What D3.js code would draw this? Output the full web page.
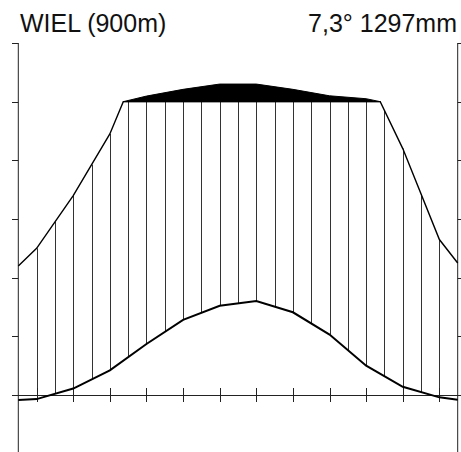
<!doctype html>
<html lang="de">
<head>
  <meta charset="utf-8">
  <style>
    body { margin: 0; background: #fff; }
    svg { display: block; }
  </style>
</head>
<body>
  <script src="https://d3js.org/d3.v7.min.js"></script>
  <div id="chart"></div>
  <script>
    // monthly means, Jan..Dec
    var months = ["Jan", "Feb", "Mär", "Apr", "Mai", "Jun", "Jul", "Aug", "Sep", "Okt", "Nov", "Dez"];
    var temp = [-0.7, 1.1, 4.2, 8.7, 12.8, 15.2, 16.0, 14.1, 10.3, 5.0, 1.4, -0.4];     // °C
    var precip = [50, 68, 89, 119, 142, 160, 160, 142, 120, 110, 84, 53];             // mm
    // values where the curves meet the left and right axis
    var tempEdge = [-0.85, -0.8];
    var precipEdge = [44, 45];
    var tempTicks = [-10, 0, 10, 20, 30, 40, 50, 60];
    var station = "WIEL (900m)";
    var summary = "7,3° 1297mm";

    var width = 461, height = 452;

    var svg = d3.select("#chart").append("svg")
        .attr("width", width)
        .attr("height", height);

    // x: month index 0..12, month i centred at i + 0.5
    var x = d3.scaleLinear().domain([0, 12]).range([18.3, 457.7]);
    // y in temperature units (10 °C = 20 mm below 100 mm, 200 mm above)
    var y = d3.scaleLinear().domain([0, 60]).range([395, 43]);
    var pToT = function(p) { return p <= 100 ? p / 2 : 50 + (p - 100) / 20; };

    var tPts = [{m: 0, v: tempEdge[0]}]
        .concat(temp.map(function(v, i) { return {m: i + 0.5, v: v}; }))
        .concat([{m: 12, v: tempEdge[1]}]);
    var pRaw = [{m: 0, v: precipEdge[0]}]
        .concat(precip.map(function(v, i) { return {m: i + 0.5, v: v}; }))
        .concat([{m: 12, v: precipEdge[1]}]);

    // add the points where precipitation crosses 100 mm
    var pPts = [];
    pRaw.forEach(function(d, i) {
      if (i > 0) {
        var a = pRaw[i - 1];
        if ((a.v - 100) * (d.v - 100) < 0) {
          var f = (100 - a.v) / (d.v - a.v);
          pPts.push({m: a.m + f * (d.m - a.m), v: 100});
        }
      }
      pPts.push(d);
    });
    var wet = pPts.filter(function(d) { return d.v >= 100; });

    var interp = function(pts, m) {
      for (var i = 1; i < pts.length; i++) {
        if (m <= pts[i].m) {
          var a = pts[i - 1], b = pts[i];
          return a.v + (b.v - a.v) * (m - a.m) / (b.m - a.m);
        }
      }
      return pts[pts.length - 1].v;
    };

    // hatching (humid period), every half month
    var hatch = d3.range(1, 24).map(function(k) { return k / 2; });
    svg.append("g").selectAll("line").data(hatch).enter().append("line")
        .attr("x1", function(m) { return Math.round(x(m)) + 0.5; })
        .attr("x2", function(m) { return Math.round(x(m)) + 0.5; })
        .attr("y1", function(m) { return y(interp(tPts, m)); })
        .attr("y2", function(m) { return y(Math.min(pToT(interp(pPts, m)), 50)); })
        .attr("stroke", "#333")
        .attr("stroke-width", 1);

    // perhumid part above 100 mm, black
    var area = d3.area()
        .x(function(d) { return x(d.m); })
        .y0(y(50))
        .y1(function(d) { return y(pToT(d.v)); });
    svg.append("path")
        .datum(wet)
        .attr("d", area)
        .attr("fill", "#000")
        .attr("stroke", "#000")
        .attr("stroke-width", 1)
        .attr("stroke-linejoin", "round");

    // axes
    var axes = svg.append("g").attr("stroke", "#222").attr("stroke-width", 1);
    axes.append("line")
        .attr("x1", x(0)).attr("x2", x(0))
        .attr("y1", y(60)).attr("y2", y(-10));
    axes.append("line")
        .attr("x1", x(12)).attr("x2", x(12))
        .attr("y1", y(60)).attr("y2", y(-10));
    axes.selectAll(".tl").data(tempTicks).enter().append("line")
        .attr("x1", 12).attr("x2", x(0))
        .attr("y1", function(d) { return Math.round(y(d)) + 0.5; })
        .attr("y2", function(d) { return Math.round(y(d)) + 0.5; });
    axes.selectAll(".tr").data(tempTicks).enter().append("line")
        .attr("x1", x(12)).attr("x2", width)
        .attr("y1", function(d) { return Math.round(y(d)) + 0.5; })
        .attr("y2", function(d) { return Math.round(y(d)) + 0.5; });
    // zero line with month ticks
    axes.append("line")
        .attr("x1", 12).attr("x2", width)
        .attr("y1", Math.round(y(0)) + 0.5).attr("y2", Math.round(y(0)) + 0.5);
    axes.selectAll(".mt").data(months).enter().append("line")
        .attr("x1", function(d, i) { return Math.round(x(i + 0.5)) + 0.5; })
        .attr("x2", function(d, i) { return Math.round(x(i + 0.5)) + 0.5; })
        .attr("y1", y(0) - 7).attr("y2", y(0) + 7);

    // precipitation curve (capped at 100 mm)
    var pLine = d3.line()
        .x(function(d) { return x(d.m); })
        .y(function(d) { return y(Math.min(pToT(d.v), 50)); });
    svg.append("path")
        .datum(pPts)
        .attr("d", pLine)
        .attr("fill", "none")
        .attr("stroke", "#000")
        .attr("stroke-width", 1.4);

    // temperature curve
    var tLine = d3.line()
        .x(function(d) { return x(d.m); })
        .y(function(d) { return y(d.v); });
    svg.append("path")
        .datum(tPts)
        .attr("d", tLine)
        .attr("fill", "none")
        .attr("stroke", "#000")
        .attr("stroke-width", 2);

    // header
    svg.append("text")
        .attr("x", 20).attr("y", 31.5)
        .attr("font-family", "'Liberation Sans', Arial, sans-serif")
        .attr("font-size", 25)
        .attr("fill", "#111")
        .text(station);
    svg.append("text")
        .attr("x", 457).attr("y", 31.5)
        .attr("text-anchor", "end")
        .attr("font-family", "'Liberation Sans', Arial, sans-serif")
        .attr("font-size", 25)
        .attr("fill", "#111")
        .text(summary);
  </script>
</body>
</html>
